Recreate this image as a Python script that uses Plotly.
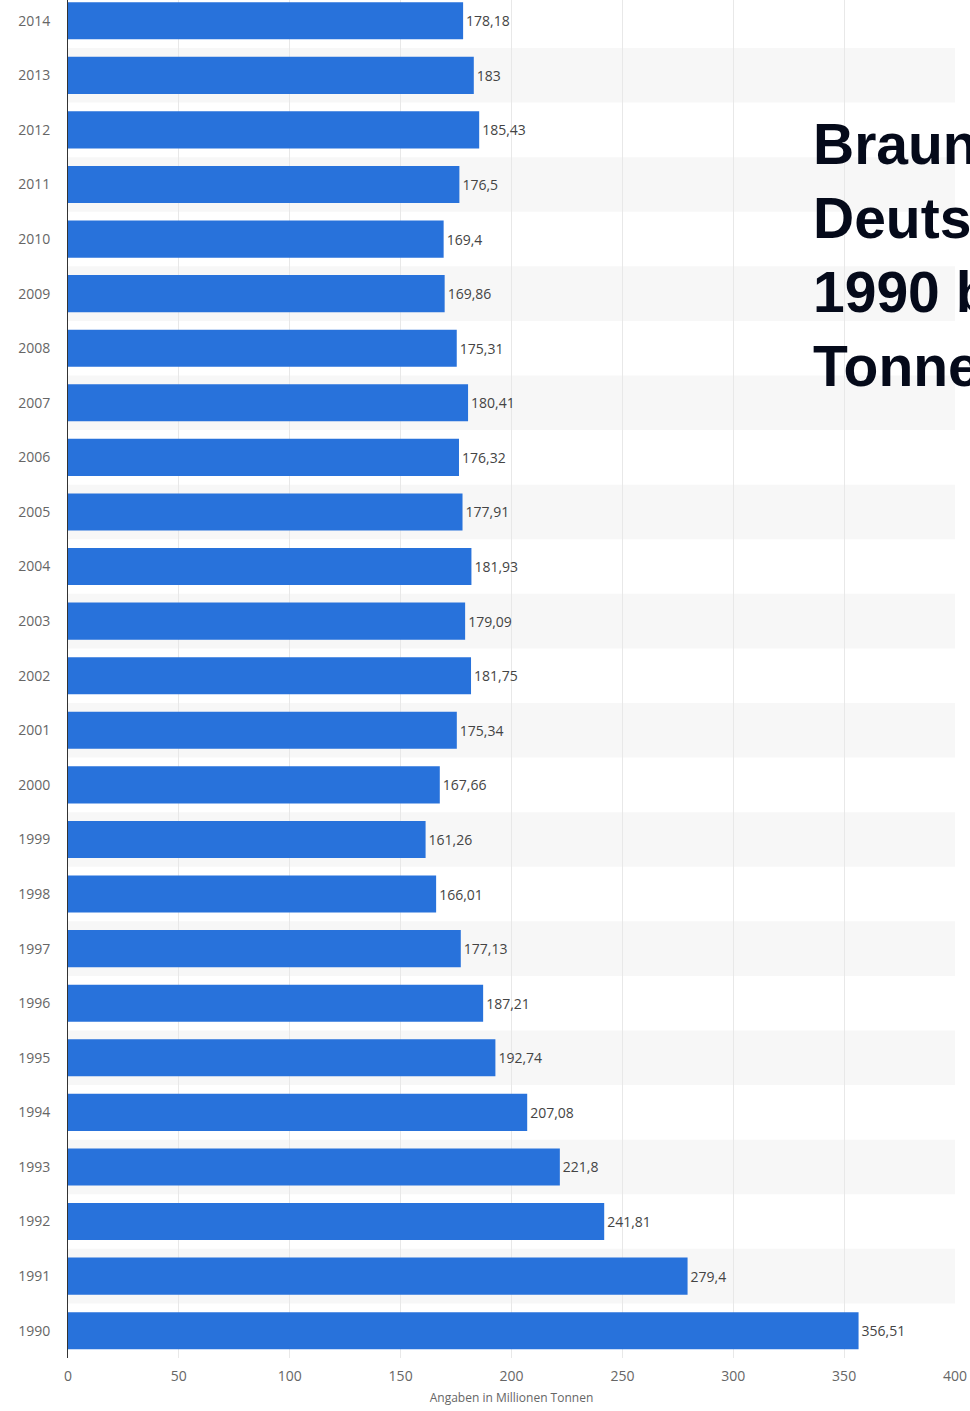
import plotly.graph_objects as go

years = [str(y) for y in range(1990, 2015)]
values = [356.51, 279.4, 241.81, 221.8, 207.08, 192.74, 187.21, 177.13, 166.01, 161.26,
          167.66, 175.34, 181.75, 179.09, 181.93, 177.91, 176.32, 180.41, 175.31, 169.86,
          169.4, 176.5, 185.43, 183, 178.18]
labels = [f"{v:g}".replace(".", ",") for v in values]
x_ticks = [0, 50, 100, 150, 200, 250, 300, 350, 400]
title_lines = ["Braunkohleförderung in", "Deutschland von", "1990 bis 2014 (in Millionen", "Tonnen)"]
axis_title = "Angaben in Millionen Tonnen"

fig = go.Figure()
fig.add_trace(go.Bar(
    y=years, x=values, orientation="h",
    marker=dict(color="#2872db", line=dict(width=0)),
    text=labels, textposition="outside", cliponaxis=False,
    textfont=dict(family="Open Sans", size=14, color="#444444"),
    hoverinfo="skip",
))

shapes = []
for i, y in enumerate(years):
    if int(y) % 2 == 1:
        shapes.append(dict(type="rect", xref="paper", yref="y", x0=0, x1=1,
                           y0=i - 0.5, y1=i + 0.5, fillcolor="#f7f7f7",
                           line=dict(width=0), layer="below"))

fig.update_layout(
    width=970, height=1411,
    margin=dict(l=68, r=15, t=0, b=53),
    plot_bgcolor="white", paper_bgcolor="white",
    bargap=0.32, showlegend=False,
    shapes=shapes,
    xaxis=dict(range=[0, 400], tickvals=x_ticks, showgrid=True, gridcolor="#e8e8e8",
               zeroline=False, showline=False, ticks="", ticklabelstandoff=8,
               tickfont=dict(family="Open Sans", size=14, color="#666666"),
               title=dict(text=axis_title, font=dict(family="Open Sans", size=12, color="#666666"),
                          standoff=9)),
    yaxis=dict(type="category", range=[-0.5, 24.38], showgrid=False, showline=True,
               linecolor="#333333", linewidth=1, ticks="", ticklabelstandoff=14,
               tickfont=dict(family="Open Sans", size=14, color="#666666")),
    annotations=[dict(text="<br>".join("<b>" + t + "</b>" for t in title_lines),
                      xref="paper", yref="paper", x=0.838, y=0.919,
                      xanchor="left", yanchor="top", align="left", showarrow=False,
                      font=dict(family="Liberation Sans", size=57, color="#050a1a"))],
)

fig.write_html("out.html")
